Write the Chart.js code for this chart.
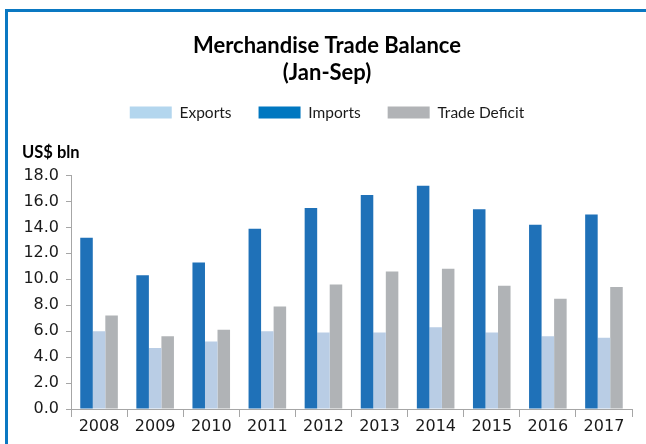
<!DOCTYPE html>
<html>
<head>
<meta charset="utf-8">
<script src="https://cdn.jsdelivr.net/npm/chart.js@4.4.0/dist/chart.umd.min.js"></script>
<style>
  html, body { margin: 0; padding: 0; background: #fff; }
  #wrap { position: relative; width: 646px; height: 444px; overflow: hidden; }
  #frame { position: absolute; left: 5px; top: 9px; right: -10px; bottom: -10px;
           border-left: 3px solid #0a78c2; border-top: 3px solid #0a78c2; }
  canvas { position: absolute; left: 0; top: 0; }
</style>
</head>
<body>
<div id="wrap">
  <div id="frame"></div>
  <canvas id="c" width="646" height="444"></canvas>
</div>
<script>
const categories = ["2008","2009","2010","2011","2012","2013","2014","2015","2016","2017"];
const imports  = [13.2, 10.3, 11.3, 13.9, 15.5, 16.5, 17.2, 15.4, 14.2, 15.0];
const exports_ = [6.0, 4.7, 5.2, 6.0, 5.9, 5.9, 6.3, 5.9, 5.6, 5.5];
const deficit  = [7.2, 5.6, 6.1, 7.9, 9.6, 10.6, 10.8, 9.5, 8.5, 9.4];
const yTicks   = [0, 2, 4, 6, 8, 10, 12, 14, 16, 18];

const legendOrder = { "Exports": 0, "Imports": 1, "Trade Deficit": 2 };
const legendColors = { "Exports": "#b3d6ee", "Imports": "#0077c0", "Trade Deficit": "#b1b3b6" };

const legendShift = {
  id: "legendShift",
  afterLayout(chart) {
    const l = chart.legend;
    if (l) { l.top -= 8; l.bottom -= 8; }
  }
};

new Chart(document.getElementById("c"), {
  type: "bar",
  data: {
    labels: categories,
    datasets: [
      { label: "Imports", data: imports, backgroundColor: "#1f71b8" },
      { label: "Exports", data: exports_, backgroundColor: "#b9cde5" },
      { label: "Trade Deficit", data: deficit, backgroundColor: "#b0b3b6" }
    ]
  },
  plugins: [legendShift],
  options: {
    responsive: false,
    animation: false,
    layout: { padding: { left: 22, right: 14, top: 0, bottom: 0 } },
    datasets: { bar: { categoryPercentage: 0.67, barPercentage: 1.0 } },
    plugins: {
      tooltip: { enabled: false },
      title: {
        display: true,
        text: ["Merchandise Trade Balance", "(Jan-Sep)"],
        color: "#000",
        font: { family: "Lato", size: 22, weight: "bold", lineHeight: 1.2 },
        padding: { top: 33, bottom: 0 }
      },
      legend: {
        display: true,
        labels: {
          color: "#1a1a1a",
          font: { family: "Lato", size: 15.5 },
          boxWidth: 42,
          boxHeight: 12,
          padding: 27,
          sort: (a, b) => legendOrder[a.text] - legendOrder[b.text],
          generateLabels: (chart) => {
            const items = Chart.defaults.plugins.legend.labels.generateLabels(chart);
            items.forEach(it => { it.fillStyle = legendColors[it.text]; it.strokeStyle = legendColors[it.text]; it.lineWidth = 0; });
            return items;
          }
        }
      },
      subtitle: {
        display: true,
        text: "US$ bln",
        align: "start",
        weight: 500,
        color: "#000",
        font: { family: "Lato", size: 16.5, weight: "bold", lineHeight: 1.1 },
        padding: { top: 5, bottom: 14 }
      }
    },
    scales: {
      x: {
        grid: { display: true, drawOnChartArea: false, color: "#a6a6a6", tickLength: 8, offset: true },
        border: { color: "#a6a6a6", width: 1 },
        ticks: { color: "#1a1a1a", font: { family: "DejaVu Sans", size: 16 }, padding: 0, maxRotation: 0 },
        afterFit: (s) => { s.height = 35; }
      },
      y: {
        min: 0, max: 18,
        afterBuildTicks: (s) => { s.ticks = yTicks.map(v => ({ value: v })); },
        grid: { display: true, drawOnChartArea: false, color: "#a6a6a6", tickLength: 5 },
        border: { color: "#a6a6a6", width: 1 },
        ticks: { color: "#1a1a1a", font: { family: "DejaVu Sans", size: 16 }, padding: 7,
                 callback: (v) => Number(v).toFixed(1) },
        afterFit: (s) => { s.width = 49; }
      }
    }
  }
});
</script>
</body>
</html>
